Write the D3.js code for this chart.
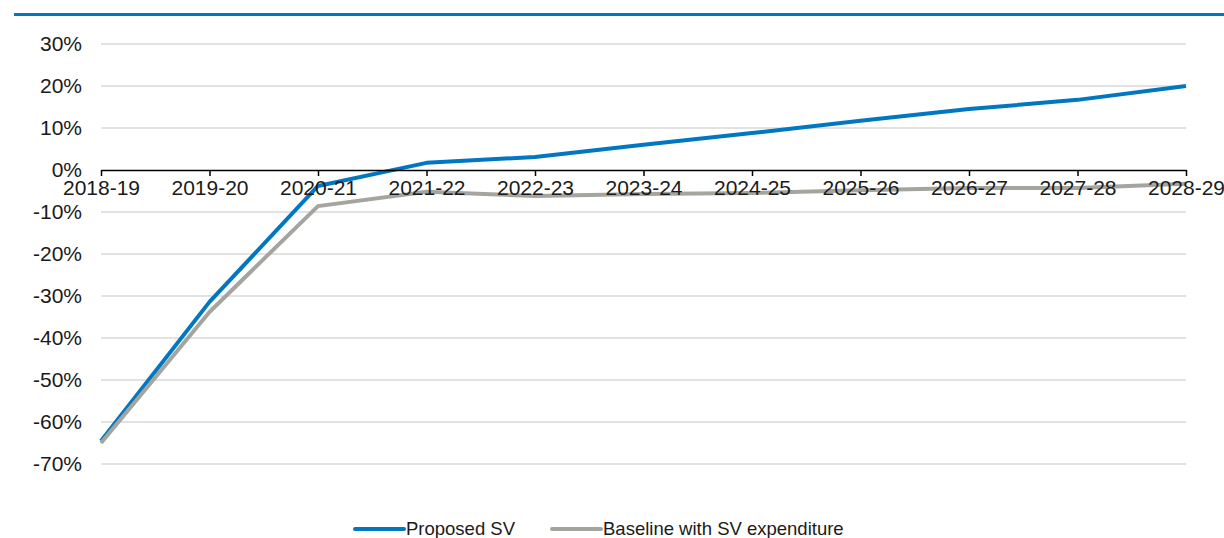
<!DOCTYPE html>
<html>
<head>
<meta charset="utf-8">
<script src="https://cdn.jsdelivr.net/npm/d3@7"></script>
<style>
  html, body { margin: 0; padding: 0; background: #fff; }
  svg { display: block; font-family: "Liberation Sans", Arial, sans-serif; }
</style>
</head>
<body>
<svg id="chart" width="1224" height="538"></svg>
<script>
// Financial years on the category axis
const years = ["2018-19", "2019-20", "2020-21", "2021-22", "2022-23", "2023-24",
               "2024-25", "2025-26", "2026-27", "2027-28", "2028-29"];

// Cumulative change (%) for each scenario
const proposedSV = [-64.5, -31.4, -3.8, 1.7, 3.1, 6.0, 8.8, 11.7, 14.5, 16.7, 20.0];
const baselineSV = [-65.0, -33.8, -8.6, -5.2, -6.2, -5.7, -5.5, -4.8, -4.3, -4.3, -3.3];

// Value axis ticks
const yTicks = [30, 20, 10, 0, -10, -20, -30, -40, -50, -60, -70];

const seriesNames = ["Proposed SV", "Baseline with SV expenditure"];
const seriesColors = ["#0077c0", "#a5a5a0"];

const svg = d3.select("#chart");

const x = d3.scalePoint().domain(years).range([101, 1186]);
const y = d3.scaleLinear().domain([-70, 30]).range([464, 44]);

// Header rule
svg.append("rect")
  .attr("x", 14).attr("y", 13).attr("width", 1210).attr("height", 3)
  .attr("fill", "#0077c0");

// Horizontal gridlines (zero line is drawn by the axis)
svg.append("g").selectAll("line")
  .data(yTicks.filter(d => d !== 0))
  .join("line")
  .attr("x1", x.range()[0]).attr("x2", x.range()[1])
  .attr("y1", d => y(d)).attr("y2", d => y(d))
  .attr("stroke", "#d9d9d9").attr("stroke-width", 1.5);

// Series lines
const line = d3.line()
  .x((d, i) => x(years[i]))
  .y(d => y(d))
  .curve(d3.curveLinear);

[proposedSV, baselineSV].forEach((vals, k) => {
  svg.append("path")
    .datum(vals)
    .attr("d", line)
    .attr("fill", "none")
    .attr("stroke", seriesColors[k])
    .attr("stroke-width", 4)
    .attr("stroke-linejoin", "round")
    .attr("stroke-linecap", "butt");
});

// Category axis along zero
const xAxis = svg.append("g")
  .attr("transform", `translate(0,${y(0)})`)
  .call(d3.axisBottom(x).tickSize(6).tickSizeOuter(0).tickPadding(4));
xAxis.select(".domain").attr("stroke", "#000").attr("stroke-width", 1.5);
xAxis.selectAll(".tick line").attr("stroke", "#000").attr("stroke-width", 1.5);
xAxis.selectAll(".tick text")
  .attr("font-size", 21).attr("fill", "#1a1a1a")
  .attr("font-family", "'Liberation Sans', Arial, sans-serif");

// Value axis labels
const yAxis = svg.append("g")
  .attr("transform", "translate(82,0)")
  .call(d3.axisLeft(y).tickValues(yTicks).tickSize(0).tickPadding(0)
    .tickFormat(d => d + "%"));
yAxis.select(".domain").remove();
yAxis.selectAll(".tick text")
  .attr("font-size", 21).attr("fill", "#1a1a1a")
  .attr("font-family", "'Liberation Sans', Arial, sans-serif");

// Legend
const legendItems = [
  { name: seriesNames[0], color: seriesColors[0], x0: 355 },
  { name: seriesNames[1], color: seriesColors[1], x0: 552 }
];
const lg = svg.append("g");
legendItems.forEach(it => {
  lg.append("line")
    .attr("x1", it.x0).attr("x2", it.x0 + 49)
    .attr("y1", 529).attr("y2", 529)
    .attr("stroke", it.color).attr("stroke-width", 4)
    .attr("stroke-linecap", "round");
  lg.append("text")
    .attr("x", it.x0 + 51).attr("y", 535)
    .attr("font-size", 18.5).attr("fill", "#1a1a1a")
    .text(it.name);
});
</script>
</body>
</html>
